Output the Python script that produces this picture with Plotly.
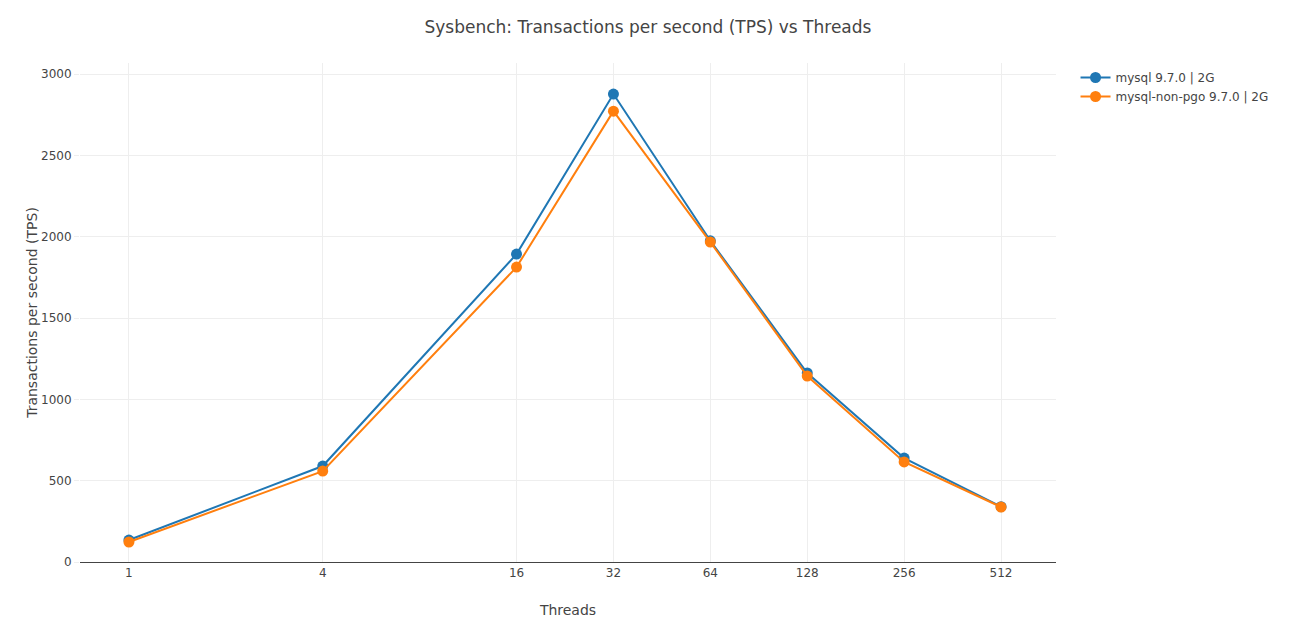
import plotly.graph_objects as go

# Threads (log2 steps) and measured TPS per build
threads = [1, 4, 16, 32, 64, 128, 256, 512]
tps_mysql = [135, 590, 1893, 2877, 1975, 1162, 639, 340]
tps_non_pgo = [123, 559, 1813, 2772, 1967, 1143, 615, 338]
tick_labels = ["1", "4", "16", "32", "64", "128", "256", "512"]

fig = go.Figure()

fig.add_trace(go.Scatter(
    x=threads, y=tps_mysql,
    mode="lines+markers",
    name="mysql 9.7.0 | 2G",
    line=dict(color="#1f77b4", width=2),
    marker=dict(size=11, color="#1f77b4"),
))
fig.add_trace(go.Scatter(
    x=threads, y=tps_non_pgo,
    mode="lines+markers",
    name="mysql-non-pgo 9.7.0 | 2G",
    line=dict(color="#ff7f0e", width=2),
    marker=dict(size=11, color="#ff7f0e"),
))

fig.update_layout(
    width=1296, height=626,
    template="plotly_white",
    font=dict(family="DejaVu Sans, Verdana, sans-serif", size=12, color="#444"),
    title=dict(text="Sysbench: Transactions per second (TPS) vs Threads",
               x=0.4938, xanchor="center", y=0.97, yanchor="middle",
               font=dict(size=17)),
    margin=dict(l=72, r=248, t=55, b=72),
    legend=dict(x=1.02, y=1, xanchor="left", yanchor="top"),
    xaxis=dict(
        type="log", title=dict(text="Threads", standoff=25),
        tickvals=threads, ticktext=tick_labels,
        range=[-0.152, 2.880],
        showline=True, linecolor="#444", linewidth=1,
        gridcolor="#eee", zeroline=False,
    ),
    yaxis=dict(
        title=dict(text="Transactions per second (TPS)", standoff=0),
        automargin=True,
        range=[0, 3068], dtick=500,
        ticks="outside", ticklen=5, tickcolor="#eee",
        gridcolor="#eee", zeroline=False,
    ),
)

fig.write_html("out.html")
